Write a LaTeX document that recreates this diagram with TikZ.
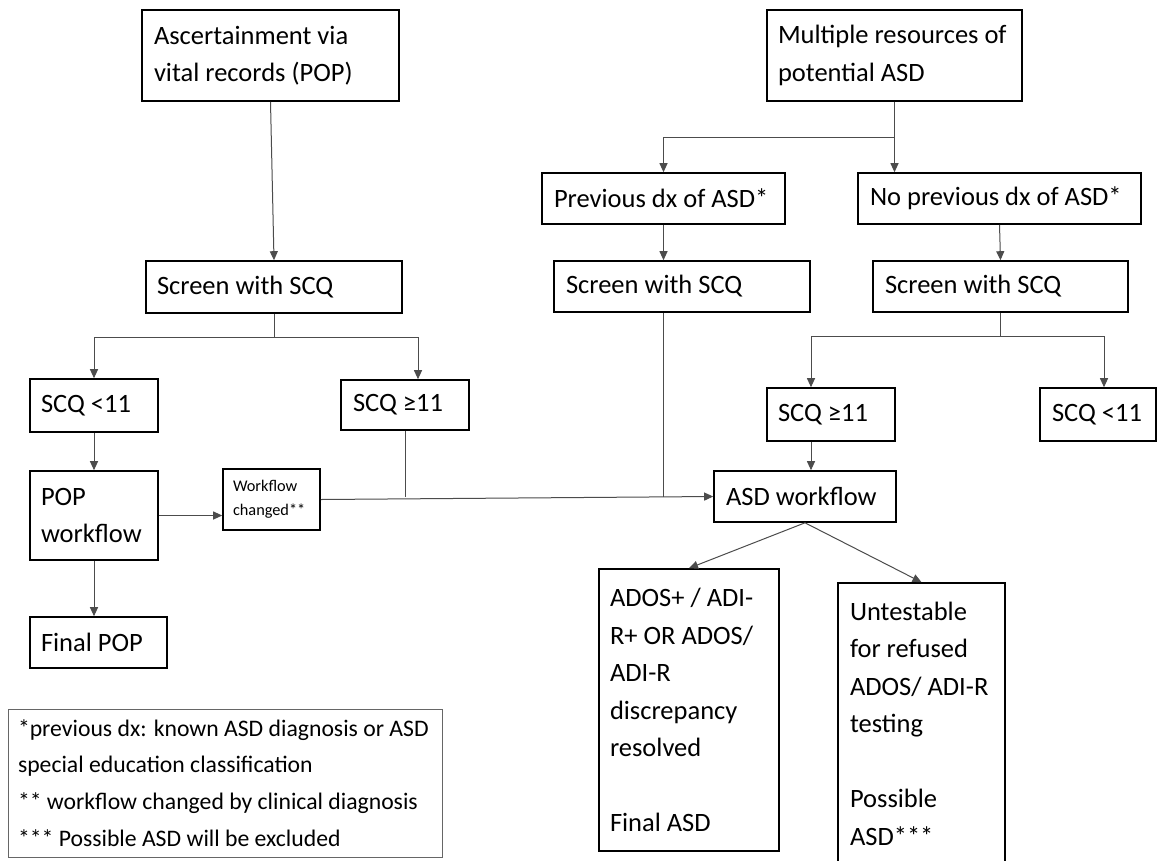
\documentclass[tikz,border=0pt]{standalone}
\usepackage{fontspec}
\setmainfont{Carlito}
\usetikzlibrary{arrows.meta}
\begin{document}
\begin{tikzpicture}[x=1pt,y=-1pt,
  box/.style={draw=black,line width=1.6pt,inner xsep=12pt,inner ysep=0pt,align=flush left,
    font=\fontsize{26.5}{37.5}\selectfont},
  conn/.style={draw=black!70,line width=1pt},
  arr/.style={conn,-{Triangle[length=9pt,width=8pt]}},
]
\useasboundingbox (0,0) rectangle (1158,860);
\fill[white] (0,0) rectangle (1158,860);

% sources
\node[box,text width=233pt,minimum height=91pt] (asc) at (270.5,55.5) {Ascertainment via\\vital records (POP)};
\node[box,inner xsep=11pt,text width=233pt,minimum height=91pt] (mult) at (894.5,55.5) {Multiple resources of\\potential ASD};
\node[box,text width=219pt,minimum height=51pt] (prev) at (663.5,198.5) {Previous dx of ASD*};
\node[box,text width=259pt,minimum height=51pt] (noprev) at (999.5,198.5) {No previous dx of ASD*};

% screening
\node[box,inner xsep=11pt,text width=234pt,minimum height=52pt] (scrL) at (274,287) {Screen with SCQ};
\node[box,text width=232pt,minimum height=51pt] (scrM) at (682,286.5) {Screen with SCQ};
\node[box,text width=231pt,minimum height=51pt] (scrR) at (1000.5,286.5) {Screen with SCQ};

% SCQ results
\node[box,inner xsep=11pt,text width=106pt,minimum height=53pt] (lt11L) at (94,405.5) {SCQ <11};
\node[box,text width=104pt,minimum height=50pt] (ge11L) at (405,405) {SCQ ≥11};
\node[box,inner xsep=11pt,text width=106pt,minimum height=53pt] (ge11R) at (831,414.5) {SCQ ≥11};
\node[box,text width=92pt,minimum height=53pt] (lt11R) at (1098,414.5) {SCQ <11};

% workflows
\node[box,inner xsep=11pt,text width=106pt,minimum height=89pt] (pop) at (94,515.5) {POP\\workflow};
\node[box,inner xsep=11pt,text width=115pt,minimum height=51pt] (final) at (98.5,642.5) {Final POP};
\node[box,inner xsep=10pt,text width=77pt,minimum height=61pt,
  font=\fontsize{16.3}{24}\selectfont] (wfc) at (271.5,499.5) {Workflow\\changed**};
\node[box,text width=158pt,minimum height=51pt] (asd) at (805,496.5) {ASD workflow};

% outcomes
\node[box,inner xsep=11pt,text width=158pt,minimum height=282pt] (ados) at (689,710)
  {ADOS+ / ADI-\\R+ OR ADOS/\\ADI-R\\discrepancy\\resolved\\[37.5pt]Final ASD};
\node[box,text width=143pt,minimum height=281pt] (unt) at (921.5,723.5)
  {Untestable\\for refused\\ADOS/ ADI-R\\testing\\[37.5pt]Possible\\ASD***};

% footnotes
\node[box,draw=black!60,line width=1pt,inner xsep=10pt,text width=414pt,minimum height=148pt,
  font=\fontsize{23.7}{36.7}\selectfont] (legend) at (225,783)
  {*previous dx: known ASD diagnosis or ASD\\special education classification\\\relax** workflow changed by clinical diagnosis\\\relax*** Possible ASD will be excluded};

% connectors, left branch
\draw[arr] (asc.south) -- (scrL.north);
\coordinate (jL) at (274,337);
\coordinate (jLr) at (418,337);
\draw[conn] (scrL.south) -- (jL);
\draw[arr] (jL) -| (lt11L.north);
\draw[arr] (jL) -- (jLr) -- (jLr |- ge11L.north);
\draw[arr] (lt11L.south) -- (pop.north);
\draw[arr] (pop.south) -- (pop.south |- final.north);
\draw[arr] (pop.east) -- (pop.east -| wfc.west);
\draw[arr] (wfc.east) -- (asd.west);
\draw[conn] (ge11L.south) -- (ge11L.south |- asd.west);

% connectors, right branch
\coordinate (jT) at (894.5,137);
\draw[conn] (mult.south) -- (jT);
\draw[arr] (jT) -| (prev.north);
\draw[arr] (jT) -- (jT |- noprev.north);
\draw[arr] (prev.south) -- (prev.south |- scrM.north);
\draw[conn] (prev.south |- scrM.south) -- (prev.south |- asd.west);
\draw[arr] (noprev.south) -- (scrR.north);
\coordinate (jR) at (1000.5,336);
\coordinate (jRl) at (811,336);
\coordinate (jRr) at (1104,336);
\draw[conn] (scrR.south) -- (jR);
\draw[arr] (jR) -- (jRl) -- (jRl |- ge11R.north);
\draw[arr] (jR) -- (jRr) -- (jRr |- lt11R.north);
\draw[arr] (jRl |- ge11R.south) -- (jRl |- asd.north);
\draw[arr] (asd.south) -- (ados.north);
\draw[arr] (asd.south) -- (unt.north);
\end{tikzpicture}
\end{document}
